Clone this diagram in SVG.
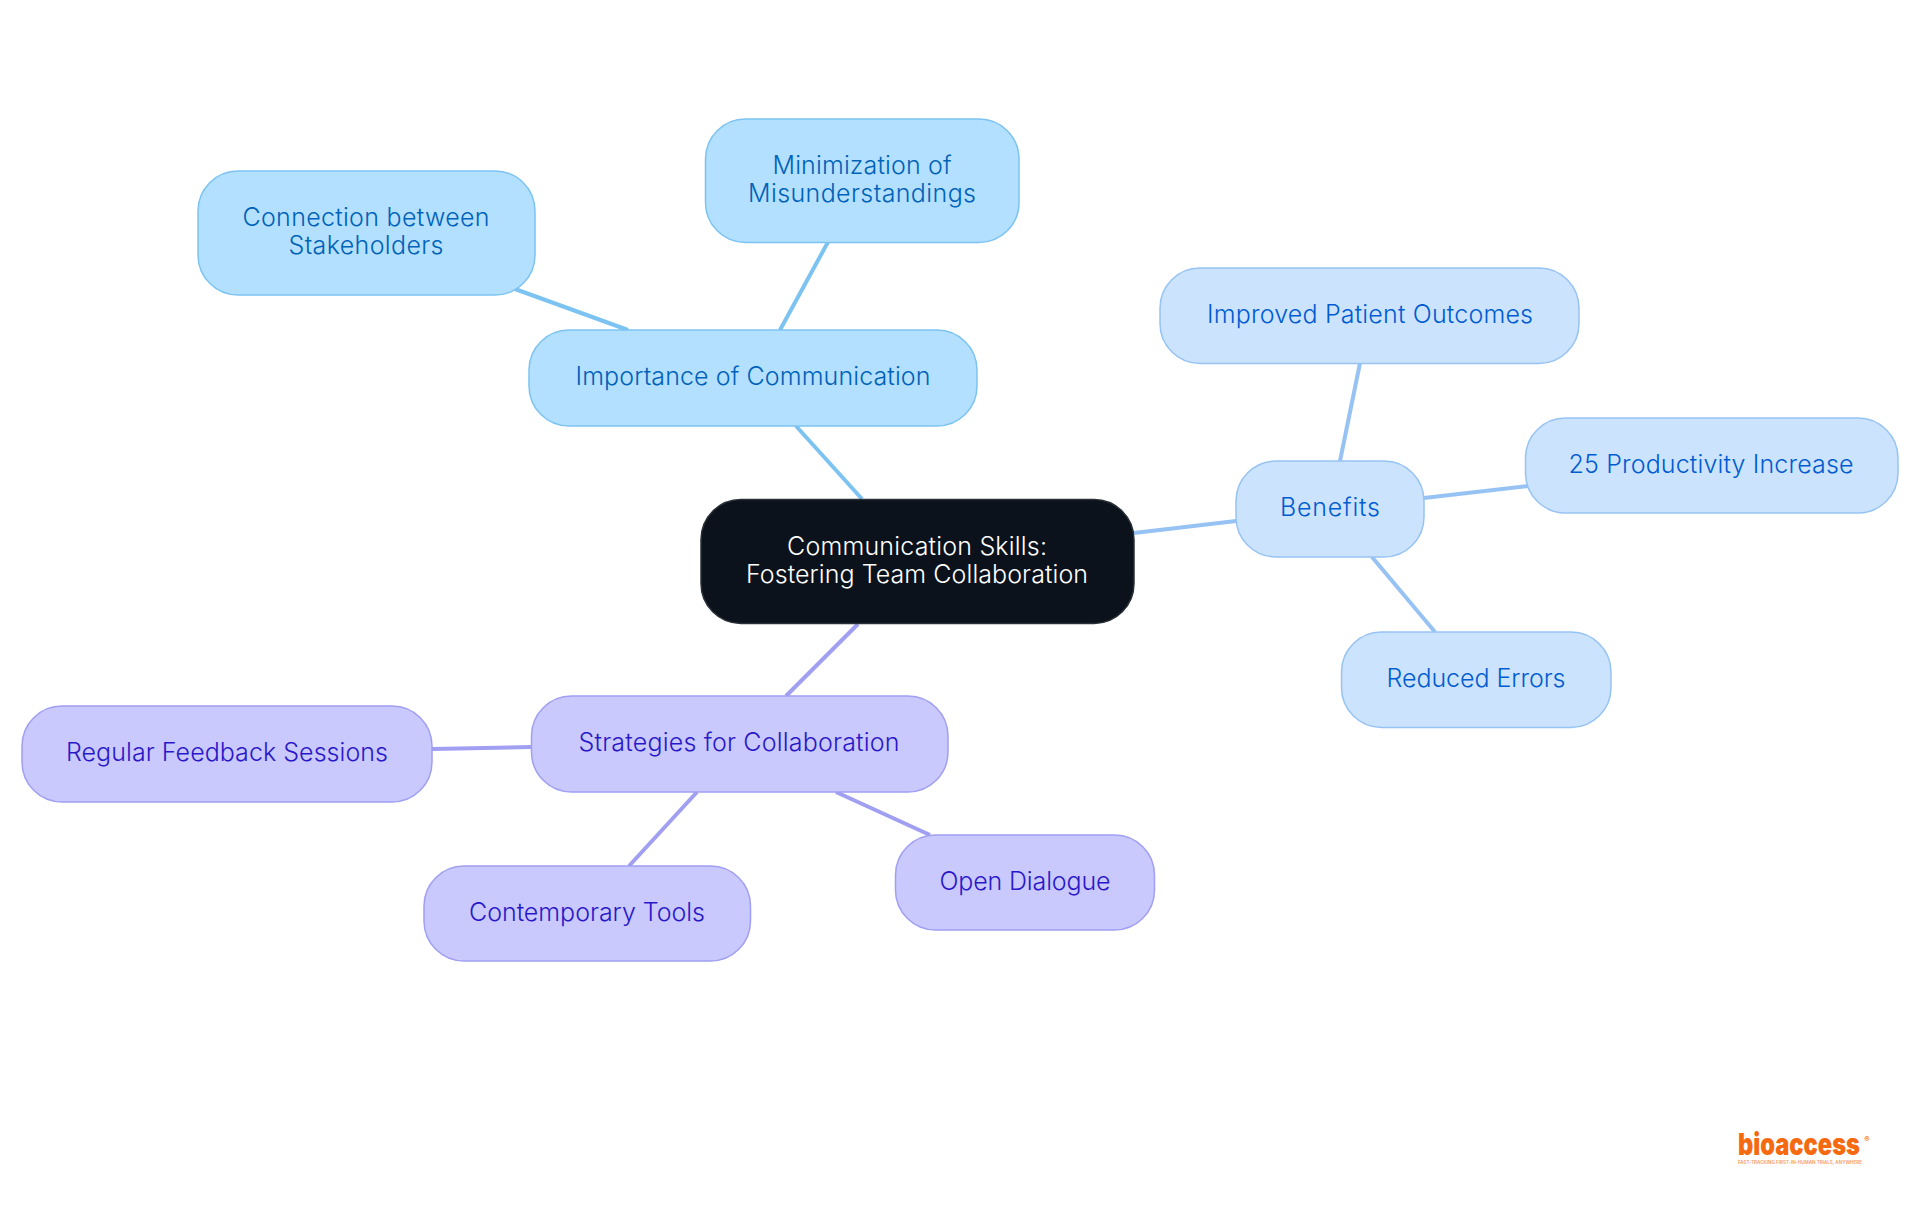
<svg xmlns="http://www.w3.org/2000/svg" width="1920" height="1215" viewBox="0 0 1920 1215">
<style>
text{font-family:Inter,"Noto Sans",sans-serif;font-size:25px;font-weight:350;text-anchor:middle}
.n rect{stroke-width:1.5}
.a rect{fill:#b3e0ff;stroke:#7cc3f2}.a text{fill:#0062b8}
.b rect{fill:#cce3fd;stroke:#96c3f3}.b text{fill:#005cd0}
.c rect{fill:#c9c9fd;stroke:#a09ff2}.c text{fill:#2a18c8}
#conn line{stroke-width:4}
.la{stroke:#7cc3f2}.lb{stroke:#96c3f3}.lc{stroke:#a09ff2}
</style>
<rect width="1920" height="1215" fill="#fff"/>
<g id="conn">
<line class="la" x1="796" y1="426" x2="862" y2="499"/>
<line class="la" x1="780" y1="330" x2="828" y2="242"/>
<line class="la" x1="628" y1="330" x2="515" y2="289"/>
<line class="lb" x1="1134" y1="533" x2="1236" y2="521"/>
<line class="lb" x1="1340" y1="461" x2="1360" y2="363"/>
<line class="lb" x1="1424" y1="498" x2="1528" y2="486"/>
<line class="lb" x1="1372" y1="557" x2="1435" y2="632"/>
<line class="lc" x1="858" y1="624" x2="786" y2="696"/>
<line class="lc" x1="531" y1="747" x2="432" y2="749"/>
<line class="lc" x1="697" y1="792" x2="629" y2="866"/>
<line class="lc" x1="836" y1="792" x2="930" y2="835"/>
</g>
<g id="root" class="n"><rect x="701" y="499.5" width="433" height="124" rx="40" fill="#0b121b" stroke="#2a3038"/><text x="917" y="555" fill="#fff" textLength="260">Communication Skills:</text><text x="917" y="583" fill="#fff" textLength="342">Fostering Team Collaboration</text></g>
<g id="importance" class="n a"><rect x="529" y="330" width="448" height="96" rx="40"/><text x="753" y="385" textLength="355">Importance of Communication</text></g>
<g id="minimization" class="n a"><rect x="705.500" y="119" width="313.500" height="123.500" rx="40"/><text x="862" y="174" textLength="179">Minimization of</text><text x="862" y="202" textLength="228">Misunderstandings</text></g>
<g id="connection" class="n a"><rect x="198" y="171" width="337" height="124" rx="40"/><text x="366" y="226" textLength="247">Connection between</text><text x="366" y="254" textLength="155">Stakeholders</text></g>
<g id="benefits" class="n b"><rect x="1236" y="461" width="188" height="96" rx="40"/><text x="1330" y="516" textLength="100">Benefits</text></g>
<g id="improved" class="n b"><rect x="1160" y="268" width="419" height="95.500" rx="40"/><text x="1370" y="323" textLength="326">Improved Patient Outcomes</text></g>
<g id="productivity" class="n b"><rect x="1525.500" y="418" width="372.500" height="95" rx="40"/><text x="1711" y="473" textLength="285">25 Productivity Increase</text></g>
<g id="errors" class="n b"><rect x="1341.500" y="632" width="269.500" height="95.500" rx="40"/><text x="1476" y="687" textLength="179">Reduced Errors</text></g>
<g id="strategies" class="n c"><rect x="531.500" y="696" width="416.500" height="96" rx="40"/><text x="739" y="751" textLength="321">Strategies for Collaboration</text></g>
<g id="feedback" class="n c"><rect x="22" y="706" width="410" height="96" rx="40"/><text x="227" y="761" textLength="322">Regular Feedback Sessions</text></g>
<g id="tools" class="n c"><rect x="424" y="866" width="326.500" height="95" rx="40"/><text x="587" y="921" textLength="236">Contemporary Tools</text></g>
<g id="dialogue" class="n c"><rect x="895.500" y="835" width="259" height="95" rx="40"/><text x="1025" y="890" textLength="171">Open Dialogue</text></g>
<g id="logo">
<text x="1799" y="1155" textLength="122" lengthAdjust="spacingAndGlyphs" style="font-size:30px;font-weight:900;fill:#f56a10">bioaccess</text>
<text x="1867" y="1142" style="font-size:8px;font-weight:700;fill:#f56a10">®</text>
<text x="1800" y="1164" textLength="124" lengthAdjust="spacingAndGlyphs" style="font-size:4.500px;font-weight:600;fill:#f79a60">FAST-TRACKING FIRST-IN-HUMAN TRIALS, ANYWHERE</text>
</g>
</svg>
